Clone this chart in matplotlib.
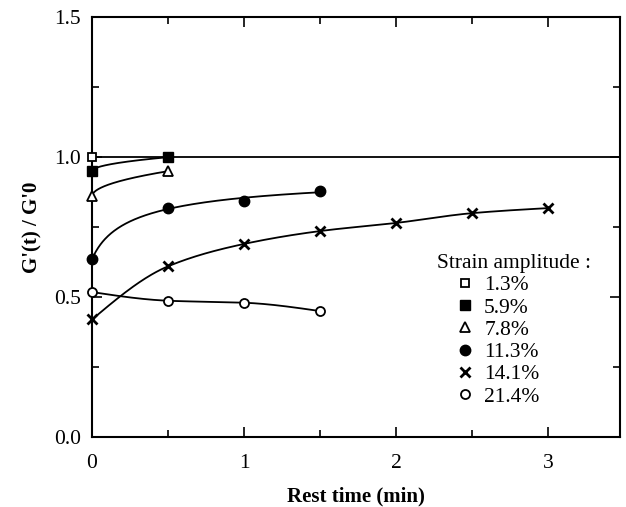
import numpy as np
import matplotlib
matplotlib.use("Agg")
import matplotlib.pyplot as plt
from matplotlib.ticker import MultipleLocator

plt.rcParams['font.family'] = ['Liberation Serif', 'DejaVu Serif']

labels = ["1.3%", "5.9%", "7.8%", "11.3%", "14.1%", "21.4%"]
t_13 = [0.0]
g_13 = [1.00]
t_59 = [0.0, 0.5]
g_59 = [0.95, 1.00]
t_78 = [0.0, 0.5]
g_78 = [0.86, 0.95]
t_113 = [0.0, 0.5, 1.0, 1.5]
g_113 = [0.635, 0.82, 0.845, 0.88]
t_141 = [0.0, 0.5, 1.0, 1.5, 2.0, 2.5, 3.0]
g_141 = [0.42, 0.61, 0.69, 0.736, 0.765, 0.80, 0.818]
t_214 = [0.0, 0.5, 1.0, 1.5]
g_214 = [0.518, 0.487, 0.48, 0.45]


def pchip(x, y, xx):
    x = np.asarray(x, float); y = np.asarray(y, float)
    h = np.diff(x); d = np.diff(y) / h
    n = len(x)
    m = np.zeros(n)
    for k in range(1, n - 1):
        if d[k - 1] * d[k] > 0:
            w1 = 2 * h[k] + h[k - 1]; w2 = h[k] + 2 * h[k - 1]
            m[k] = (w1 + w2) / (w1 / d[k - 1] + w2 / d[k])
    m[0] = d[0] * 1.5 - m[1] * 0.5 if n > 2 else d[0]
    if m[0] * d[0] < 0:
        m[0] = 0
    m[-1] = d[-1] * 1.5 - m[-2] * 0.5 if n > 2 else d[-1]
    if m[-1] * d[-1] < 0:
        m[-1] = 0
    out = np.empty_like(xx)
    idx = np.clip(np.searchsorted(x, xx) - 1, 0, n - 2)
    for j, (xv, k) in enumerate(zip(xx, idx)):
        s = (xv - x[k]) / h[k]
        h00 = 2 * s**3 - 3 * s**2 + 1; h10 = s**3 - 2 * s**2 + s
        h01 = -2 * s**3 + 3 * s**2; h11 = s**3 - s**2
        out[j] = h00 * y[k] + h10 * h[k] * m[k] + h01 * y[k + 1] + h11 * h[k] * m[k + 1]
    return out


fig = plt.figure(figsize=(6.26, 5.07), dpi=100)
ax = fig.add_axes([0.147, 0.138, 0.843, 0.828])

styles = [
    dict(marker='s', mfc='white', mec='black', ms=6, mew=1.3),
    dict(marker='s', mfc='black', mec='black', ms=6.5),
    dict(marker='^', mfc='white', mec='black', ms=6.5, mew=1.3),
    dict(marker='o', mfc='black', mec='black', ms=7.5),
    dict(marker='x', mfc='black', mec='black', ms=7, mew=2.0),
    dict(marker='o', mfc='white', mec='black', ms=6.5, mew=1.3),
]
series = [(t_13, g_13), (t_59, g_59), (t_78, g_78), (t_113, g_113), (t_141, g_141), (t_214, g_214)]

ax.axhline(1.0, color='black', lw=1.3, zorder=1)

# smooth guide curves
for i, (t, g) in enumerate(series):
    t = np.asarray(t, float); g = np.asarray(g, float)
    if len(t) < 2:
        continue
    tt = np.linspace(t.min(), t.max(), 300)
    if len(t) == 2:
        coef = np.polyfit(np.sqrt(t), g, 1)
        yy = np.polyval(coef, np.sqrt(tt))
    elif i == 3:
        coef = np.polyfit(np.log(t + 0.1), g, 2)
        yy = np.polyval(coef, np.log(tt + 0.1))
    else:
        yy = pchip(t, g, tt)
    ax.plot(tt, yy, color='black', lw=1.3, zorder=2)

handles = []
for (t, g), st, lab in zip(series, styles, labels):
    h, = ax.plot(t, g, ls='none', color='black', label=lab, zorder=3, clip_on=False, **st)
    handles.append(h)

ax.set_xlim(0, 3.47)
ax.set_ylim(0, 1.5)
ax.xaxis.set_major_locator(MultipleLocator(1))
ax.xaxis.set_minor_locator(MultipleLocator(0.5))
ax.yaxis.set_minor_locator(MultipleLocator(0.25))
ax.set_yticks([0.0, 0.5, 1.0, 1.5])
ax.set_yticklabels(["0.0", "0.5", "1.0", "1.5"])
ax.tick_params(which='both', direction='in', top=True, right=True, labelsize=15.5, width=1.2)
ax.tick_params(which='major', length=7)
ax.tick_params(axis='x', which='major', pad=12)
ax.tick_params(axis='y', which='major', pad=8)
ax.tick_params(which='minor', length=5)
for s in ax.spines.values():
    s.set_linewidth(1.5)

ax.set_xlabel("Rest time (min)", fontsize=15, fontweight='bold', labelpad=10)
ax.set_ylabel("G'(t) / G'0", fontsize=15, fontweight='bold', labelpad=8)

ax.text(0.653, 0.414, "Strain amplitude :", transform=ax.transAxes, fontsize=15.5,
        ha='left', va='center')
leg = ax.legend(handles=handles, labels=labels, frameon=False,
                loc='upper left', bbox_to_anchor=(0.69, 0.385), fontsize=15.5,
                handlelength=0.8, handletextpad=0.5, labelspacing=0.1,
                borderaxespad=0, borderpad=0)

fig.savefig("out.png", dpi=100)
